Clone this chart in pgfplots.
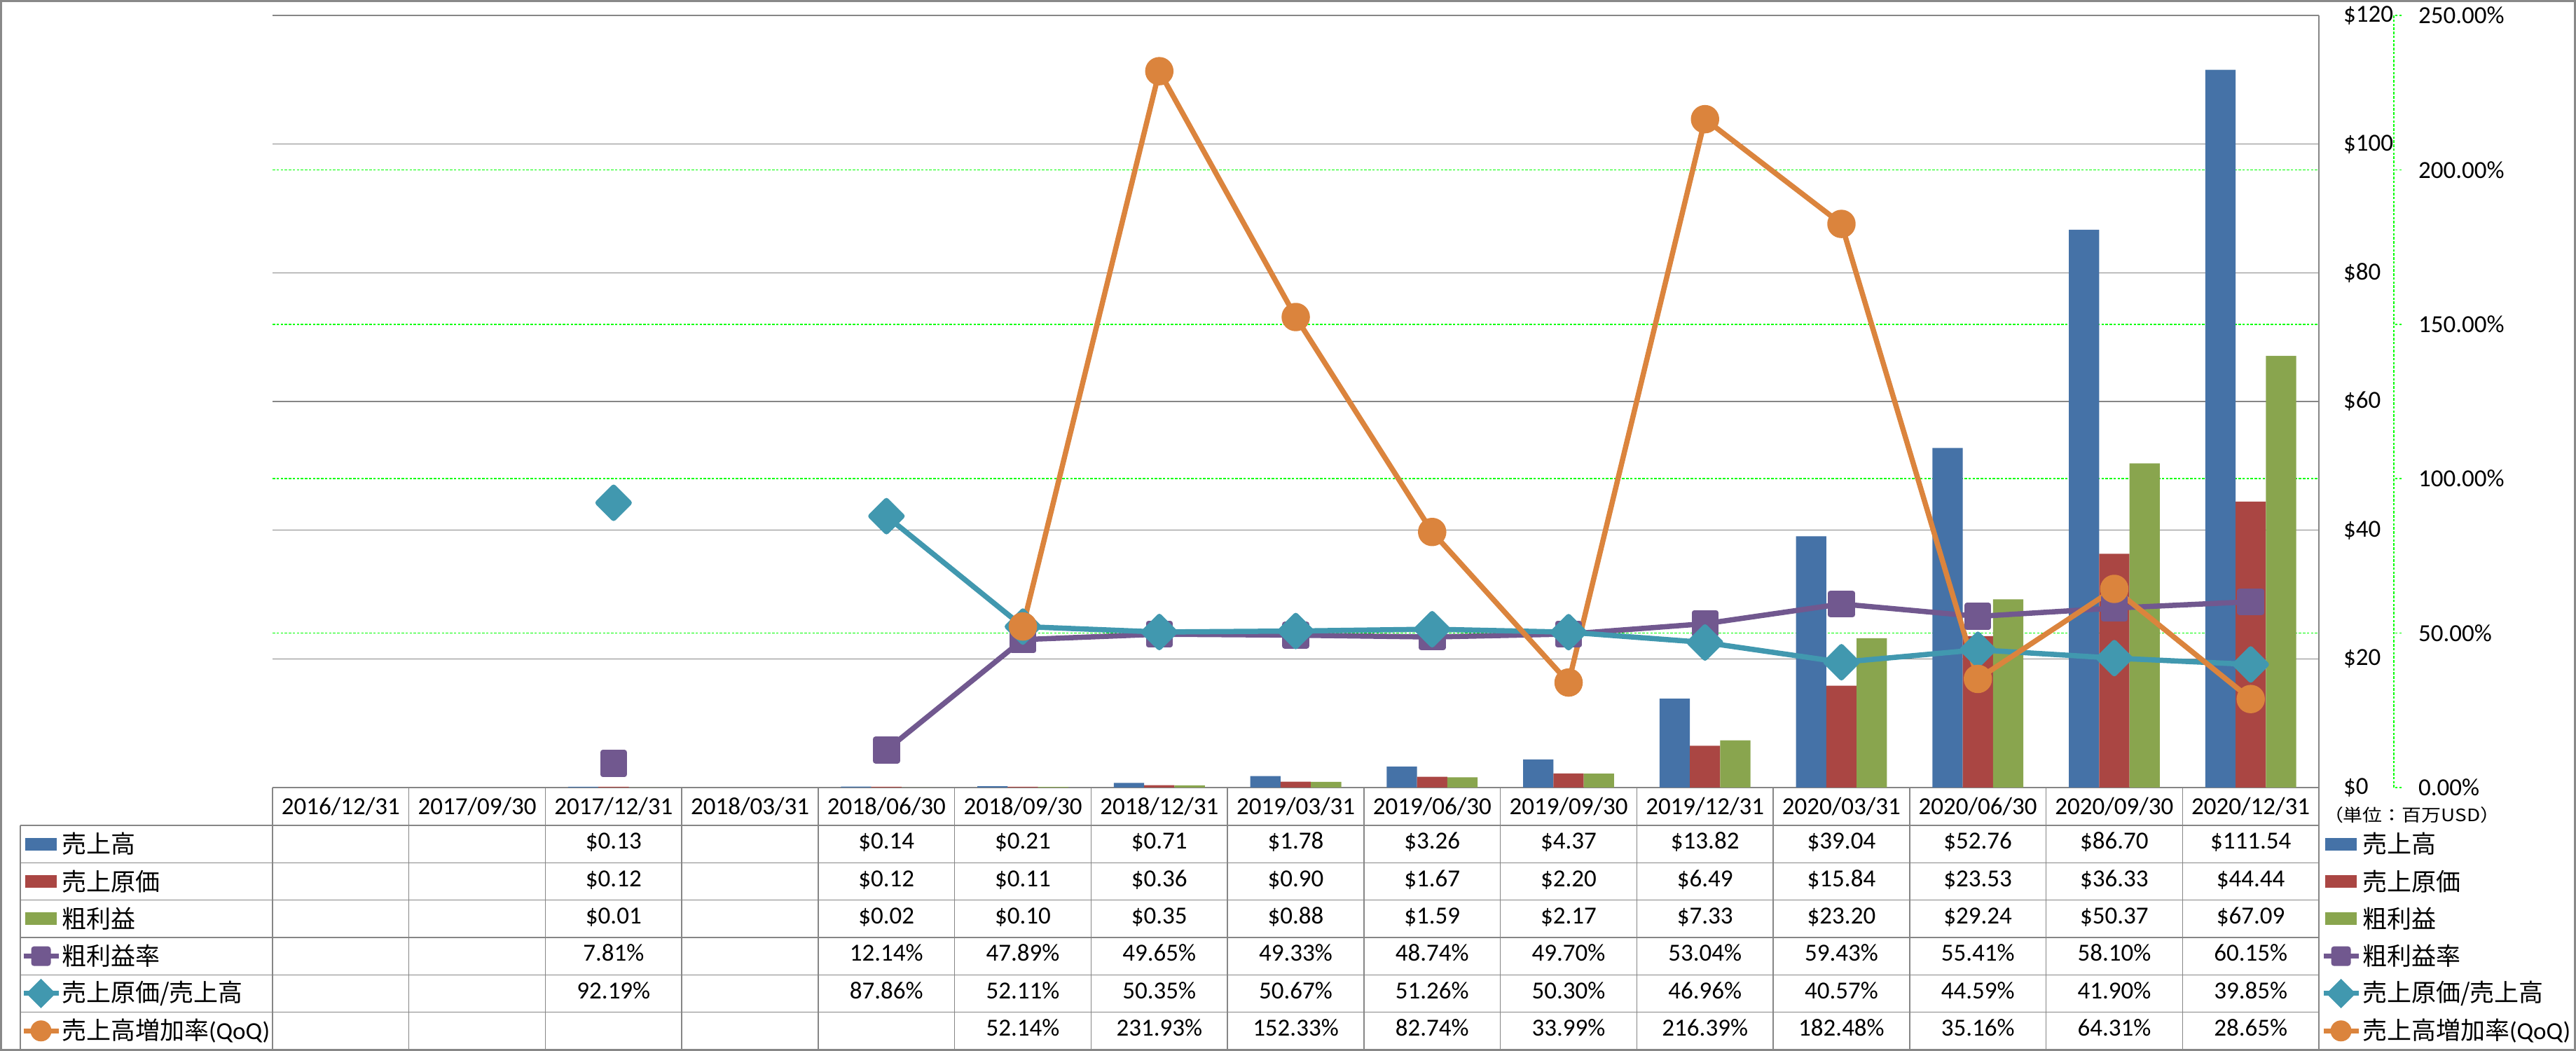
\documentclass[border=0pt]{standalone}
\usepackage{pgfplots}
\pgfplotsset{compat=1.18}
\usepackage{fontspec}
\setmainfont{Carlito}
\newfontfamily\jp{Noto Sans CJK JP}
\definecolor{cBlue}{HTML}{4572A7}
\definecolor{cRed}{HTML}{AA4643}
\definecolor{cGreen}{HTML}{89A54E}
\definecolor{cPurple}{HTML}{71588F}
\definecolor{cTeal}{HTML}{4198AF}
\definecolor{cOrange}{HTML}{DB843D}
\definecolor{cGrid}{HTML}{868686}
\definecolor{cFrame}{HTML}{898989}
\pgfplotsset{set layers}
\newcommand\tfont{\fontsize{7}{8}\selectfont}
\newcommand\colw{194.7333}
\newcommand\tabrow[2]{\foreach \t [count=\i from 0] in {#2} {\node[font=\tfont, inner sep=0pt, text height=4.5pt, text depth=0pt] at ({389+(\i+0.5)*\colw},{#1+4}) {\t};}}
\begin{document}
\begin{tikzpicture}
\pgfplotsset{
  base/.style={
    at={(77.8pt,75.2pt)}, anchor=south west,
    scale only axis, width=584.2pt, height=220.4pt,
    xmin=-0.5, xmax=14.5, xtick=\empty,
    ticklabel style={font=\tfont},
  }
}
% ---------------- primary axis: bars ----------------
\begin{axis}[base,
  ymin=0, ymax=120, ytick={0,20,...,120},
  yticklabels={\$0,\$20,\$40,\$60,\$80,\$100,\$120},
  axis y line*=right, axis x line*=bottom,
  axis line style={cGrid, line width=0.3pt},
  major tick length=0pt,
  ymajorgrids, major grid style={cGrid, line width=0.3pt},
  yticklabel style={anchor=west, inner sep=0pt, xshift=6.8pt},
  ybar=0pt, bar width=8.66pt,
]
\addplot[fill=cBlue, draw=none] coordinates {(2,0.13)(4,0.14)(5,0.21)(6,0.71)(7,1.78)(8,3.26)(9,4.37)(10,13.82)(11,39.04)(12,52.76)(13,86.70)(14,111.54)};
\addplot[fill=cRed, draw=none] coordinates {(2,0.12)(4,0.12)(5,0.11)(6,0.36)(7,0.90)(8,1.67)(9,2.20)(10,6.49)(11,15.84)(12,23.53)(13,36.33)(14,44.44)};
\addplot[fill=cGreen, draw=none] coordinates {(2,0.01)(4,0.02)(5,0.10)(6,0.35)(7,0.88)(8,1.59)(9,2.17)(10,7.33)(11,23.20)(12,29.24)(13,50.37)(14,67.09)};
\end{axis}
% ---------------- secondary axis: lines ----------------
\begin{axis}[base,
  ymin=0, ymax=250, ytick={50,100,150,200},
  yticklabels={50.00\%,100.00\%,150.00\%,200.00\%},
  extra y ticks={0,250}, extra y tick labels={0.00\%,250.00\%},
  extra y tick style={grid=none},
  axis x line=none, axis y line*=right,
  y axis line style={green, dash pattern=on 0.7pt off 0.45pt, line width=0.3pt, xshift=21.4pt},
  ymajorgrids, major grid style={green, dash pattern=on 0.7pt off 0.45pt, line width=0.3pt},
  major tick length=2.2pt, tick align=outside,
  ytick style={green, dash pattern=on 0.7pt off 0.45pt, line width=0.3pt, xshift=21.4pt},
  yticklabel style={anchor=west, inner sep=0pt, xshift=26pt},
  unbounded coords=jump,
  every axis plot/.append style={line width=1.5pt, line join=round},
]
\addplot[cPurple, mark=square*, mark size=3.1pt, mark options={solid, rounded corners=0.8pt}] coordinates {(2,7.81)(3,nan)(4,12.14)(5,47.89)(6,49.65)(7,49.33)(8,48.74)(9,49.70)(10,53.04)(11,59.43)(12,55.41)(13,58.10)(14,60.15)};
\addplot[cTeal, mark=square*, mark size=3.15pt, mark options={solid, rotate=45, rounded corners=0.8pt}] coordinates {(2,92.19)(3,nan)(4,87.86)(5,52.11)(6,50.35)(7,50.67)(8,51.26)(9,50.30)(10,46.96)(11,40.57)(12,44.59)(13,41.90)(14,39.85)};
\addplot[cOrange, mark=*, mark size=3.3pt, mark options={solid}] coordinates {(5,52.14)(6,231.93)(7,152.33)(8,82.74)(9,33.99)(10,216.39)(11,182.48)(12,35.16)(13,64.31)(14,28.65)};
\end{axis}
% ---------------- data table, frame, legend ----------------
\begin{scope}[x=0.2pt,y=0.2pt]
\draw[cFrame, line width=0.6pt] (1.5,1.5) rectangle (3675.5,1498.5);
\foreach \k in {0,...,15} {\draw[cGrid, line width=0.3pt] ({389+\k*\colw},376) -- ({389+\k*\colw},2);}
\draw[cGrid, line width=0.3pt] (29,322) -- (29,2);
\foreach \y in {322,268.667,215.333,162,108.667,55.333,2} {\draw[cGrid, line width=0.3pt] (29,\y) -- (3310,\y);}
% header
\foreach \t [count=\i from 0] in {2016/12/31,2017/09/30,2017/12/31,2018/03/31,2018/06/30,2018/09/30,2018/12/31,2019/03/31,2019/06/30,2019/09/30,2019/12/31,2020/03/31,2020/06/30,2020/09/30,2020/12/31}
  {\node[font=\tfont, inner sep=0pt, text height=4.5pt, text depth=0pt] at ({389+(\i+0.5)*\colw},349) {\t};}
% rows
\tabrow{295.333}{{},{},\$0.13,{},\$0.14,\$0.21,\$0.71,\$1.78,\$3.26,\$4.37,\$13.82,\$39.04,\$52.76,\$86.70,\$111.54}
\tabrow{242}{{},{},\$0.12,{},\$0.12,\$0.11,\$0.36,\$0.90,\$1.67,\$2.20,\$6.49,\$15.84,\$23.53,\$36.33,\$44.44}
\tabrow{188.667}{{},{},\$0.01,{},\$0.02,\$0.10,\$0.35,\$0.88,\$1.59,\$2.17,\$7.33,\$23.20,\$29.24,\$50.37,\$67.09}
\tabrow{135.333}{{},{},7.81\%,{},12.14\%,47.89\%,49.65\%,49.33\%,48.74\%,49.70\%,53.04\%,59.43\%,55.41\%,58.10\%,60.15\%}
\tabrow{82}{{},{},92.19\%,{},87.86\%,52.11\%,50.35\%,50.67\%,51.26\%,50.30\%,46.96\%,40.57\%,44.59\%,41.90\%,39.85\%}
\tabrow{28.667}{{},{},{},{},{},52.14\%,231.93\%,152.33\%,82.74\%,33.99\%,216.39\%,182.48\%,35.16\%,64.31\%,28.65\%}
% legend icons + labels (left column and right legend)
\foreach \x/\tx in {58.5/87, 3341.5/3371} {
  \fill[cBlue]  (\x-22.5,295.333-9) rectangle (\x+22.5,295.333+9);
  \fill[cRed]   (\x-22.5,242-9) rectangle (\x+22.5,242+9);
  \fill[cGreen] (\x-22.5,188.667-9) rectangle (\x+22.5,188.667+9);
  \draw[cPurple, line width=1.4pt] (\x-25,135.333) -- (\x+25,135.333);
  \fill[cPurple, rounded corners=0.8pt] (\x-14,135.333-14) rectangle (\x+14,135.333+14);
  \draw[cTeal, line width=1.4pt] (\x-25,82) -- (\x+25,82);
  \fill[cTeal] (\x,82+21) -- (\x+21,82) -- (\x,82-21) -- (\x-21,82) -- cycle;
  \draw[cOrange, line width=1.4pt] (\x-25,28.667) -- (\x+25,28.667);
  \fill[cOrange] (\x,28.667) circle[radius=15];
  \node[anchor=west, inner sep=0pt, font=\tfont] at (\tx,295.333) {\jp 売上高};
  \node[anchor=west, inner sep=0pt, font=\tfont] at (\tx,242) {\jp 売上原価};
  \node[anchor=west, inner sep=0pt, font=\tfont] at (\tx,188.667) {\jp 粗利益};
  \node[anchor=west, inner sep=0pt, font=\tfont] at (\tx,135.333) {\jp 粗利益率};
  \node[anchor=west, inner sep=0pt, font=\tfont] at (\tx,82) {\jp 売上原価/売上高};
  \node[anchor=west, inner sep=0pt, font=\tfont] at (\tx,28.667) {{\jp 売上高増加率}(QoQ)};
}
\node[anchor=west, inner sep=0pt, font=\fontsize{4.9}{6}\selectfont\jp] at (3316,337) {\scalebox{1.14}[1]{（単位：百万USD）}};
\end{scope}
\end{tikzpicture}
\end{document}
